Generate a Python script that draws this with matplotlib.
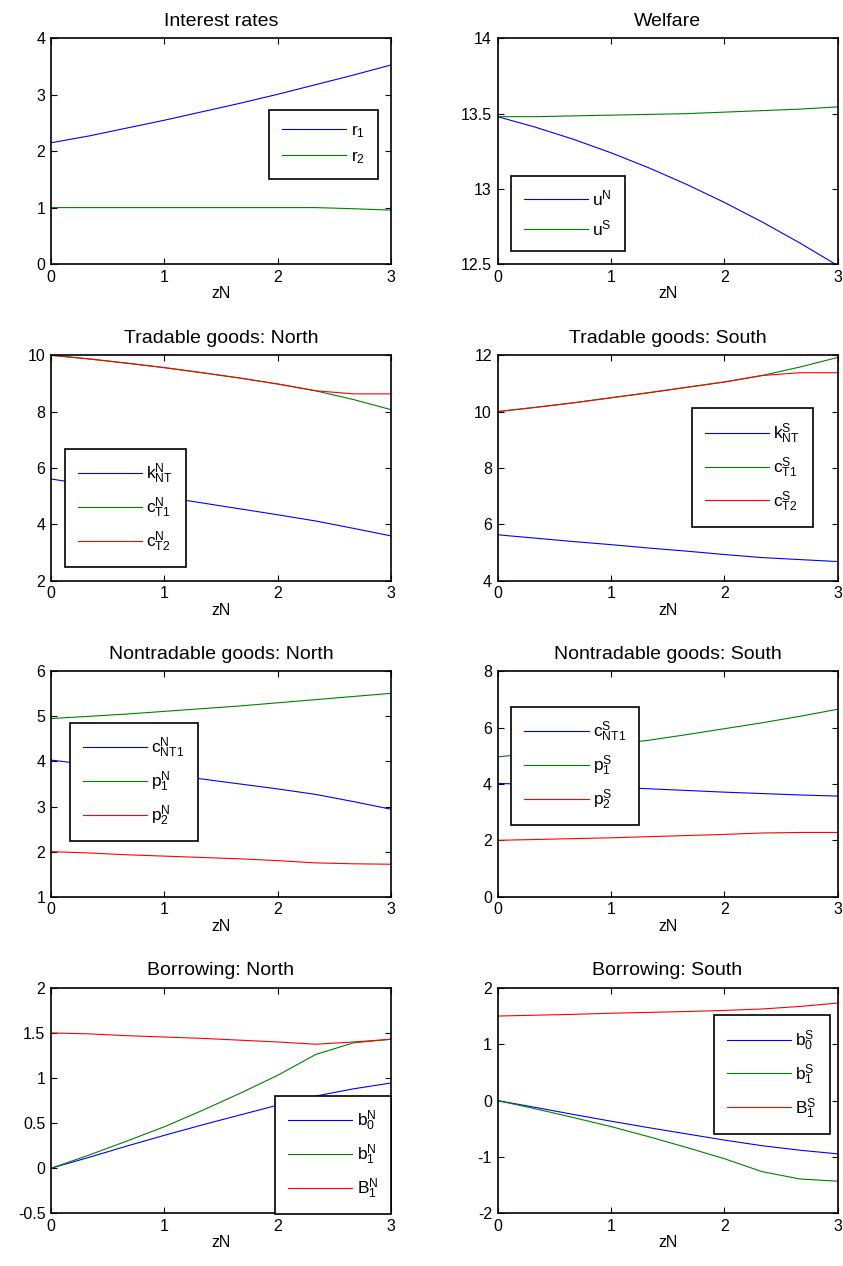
import matplotlib
matplotlib.use('Agg')
import matplotlib.pyplot as plt

plt.rcParams['font.family'] = ['Liberation Sans', 'DejaVu Sans']
plt.rcParams['mathtext.fontset'] = 'custom'
plt.rcParams['mathtext.rm'] = 'Liberation Sans'
plt.rcParams['mathtext.default'] = 'regular'
plt.rcParams['axes.unicode_minus'] = False

# grid of zN values
zN = [0, 1/3, 2/3, 1, 4/3, 5/3, 2, 7/3, 8/3, 3]

# interest rates
r1 = [2.15, 2.27, 2.41, 2.55, 2.70, 2.85, 3.01, 3.18, 3.35, 3.53]
r2 = [1.0, 1.0, 1.0, 1.0, 1.0, 1.0, 1.0, 1.0, 0.98, 0.955]

# welfare
uN = [13.48, 13.41, 13.33, 13.24, 13.14, 13.03, 12.91, 12.78, 12.64, 12.49]
uS = [13.48, 13.48, 13.485, 13.49, 13.495, 13.50, 13.51, 13.52, 13.53, 13.545]

# tradable goods
kNT_N = [5.61, 5.40, 5.18, 4.97, 4.76, 4.55, 4.34, 4.12, 3.86, 3.59]
cT1_N = [10.0, 9.87, 9.72, 9.56, 9.38, 9.19, 8.98, 8.74, 8.43, 8.07]
cT2_N = [10.0, 9.87, 9.72, 9.56, 9.38, 9.19, 8.98, 8.74, 8.63, 8.63]
kNT_S = [5.63, 5.51, 5.39, 5.28, 5.16, 5.05, 4.93, 4.82, 4.75, 4.68]
cT1_S = [10.0, 10.15, 10.31, 10.49, 10.67, 10.86, 11.05, 11.28, 11.58, 11.92]
cT2_S = [10.0, 10.15, 10.31, 10.49, 10.67, 10.86, 11.05, 11.28, 11.38, 11.38]

# nontradable goods
cNT1_N = [4.03, 3.93, 3.83, 3.72, 3.61, 3.50, 3.39, 3.27, 3.11, 2.94]
p1_N = [4.95, 5.00, 5.05, 5.11, 5.17, 5.23, 5.30, 5.37, 5.44, 5.51]
p2_N = [2.0, 1.97, 1.93, 1.90, 1.87, 1.84, 1.80, 1.75, 1.73, 1.72]
cNT1_S = [4.02, 3.98, 3.93, 3.88, 3.83, 3.77, 3.71, 3.66, 3.61, 3.57]
p1_S = [4.96, 5.10, 5.25, 5.40, 5.55, 5.75, 5.96, 6.17, 6.40, 6.65]
p2_S = [2.0, 2.03, 2.06, 2.09, 2.13, 2.17, 2.21, 2.26, 2.28, 2.28]

# borrowing
b0_N = [0.0, 0.12, 0.245, 0.365, 0.48, 0.59, 0.70, 0.80, 0.88, 0.945]
b1_N = [0.0, 0.145, 0.30, 0.46, 0.64, 0.83, 1.03, 1.26, 1.39, 1.43]
B1_N = [1.5, 1.49, 1.47, 1.455, 1.44, 1.42, 1.40, 1.375, 1.40, 1.43]
b0_S = [0.0, -0.12, -0.245, -0.365, -0.48, -0.59, -0.70, -0.80, -0.88, -0.945]
b1_S = [0.0, -0.145, -0.30, -0.46, -0.64, -0.83, -1.03, -1.26, -1.39, -1.43]
B1_S = [1.5, 1.515, 1.53, 1.55, 1.565, 1.58, 1.60, 1.625, 1.67, 1.73]

colors = ['#0000ff', '#008000', '#ff0000']

panels = [
    ('Interest rates', [r1, r2], ['$r_1$', '$r_2$'],
     (0, 4), [0, 1, 2, 3, 4], (0.801, 0.53)),
    ('Welfare', [uN, uS], ['$u^N$', '$u^S$'],
     (12.5, 14), [12.5, 13, 13.5, 14], (0.207, 0.225)),
    ('Tradable goods: North', [kNT_N, cT1_N, cT2_N],
     ['$k^N_{NT}$', '$c^N_{T1}$', '$c^N_{T2}$'],
     (2, 10), [2, 4, 6, 8, 10], (0.219, 0.3225)),
    ('Tradable goods: South', [kNT_S, cT1_S, cT2_S],
     ['$k^S_{NT}$', '$c^S_{T1}$', '$c^S_{T2}$'],
     (4, 12), [4, 6, 8, 10, 12], (0.75, 0.502)),
    ('Nontradable goods: North', [cNT1_N, p1_N, p2_N],
     ['$c^N_{NT1}$', '$p^N_1$', '$p^N_2$'],
     (1, 6), [1, 2, 3, 4, 5, 6], (0.243, 0.509)),
    ('Nontradable goods: South', [cNT1_S, p1_S, p2_S],
     ['$c^S_{NT1}$', '$p^S_1$', '$p^S_2$'],
     (0, 8), [0, 2, 4, 6, 8], (0.229, 0.579)),
    ('Borrowing: North', [b0_N, b1_N, B1_N],
     ['$b^N_0$', '$b^N_1$', '$B^N_1$'],
     (-0.5, 2), [-0.5, 0, 0.5, 1, 1.5, 2], (0.830, 0.259)),
    ('Borrowing: South', [b0_S, b1_S, B1_S],
     ['$b^S_0$', '$b^S_1$', '$B^S_1$'],
     (-2, 2), [-2, -1, 0, 1, 2], (0.806, 0.616)),
]

fig = plt.figure(figsize=(8.43, 12.66), dpi=100)

lefts = [0.0605, 0.5902]
bottoms = [0.7915, 0.5413, 0.2917, 0.0416]
w, h = 0.4033, 0.1781

for i, (title, series, labels, ylim, yticks, legpos) in enumerate(panels):
    ax = fig.add_axes([lefts[i % 2], bottoms[i // 2], w, h])
    for s, lab, c in zip(series, labels, colors):
        ax.plot(zN, s, color=c, lw=0.8, label=lab)
    ax.set_xlim(0, 3)
    ax.set_ylim(*ylim)
    ax.set_xticks([0, 1, 2, 3])
    ax.set_yticks(yticks)
    ax.set_yticklabels(['%g' % t for t in yticks])
    ax.tick_params(direction='in', top=True, right=True, length=4,
                   width=0.8, labelsize=11.5, pad=4)
    for sp in ax.spines.values():
        sp.set_linewidth(1.2)
    ax.set_title(title, fontsize=14, pad=9)
    ax.set_xlabel('zN', fontsize=11.5, labelpad=1)
    leg = ax.legend(loc='center', bbox_to_anchor=legpos, fontsize=12.5,
                    handlelength=3.7, handletextpad=0.25, labelspacing=0.55,
                    borderpad=0.75, borderaxespad=0, fancybox=False,
                    framealpha=1, edgecolor='black')
    leg.get_frame().set_linewidth(1.2)

fig.savefig('out.png', dpi=100)
